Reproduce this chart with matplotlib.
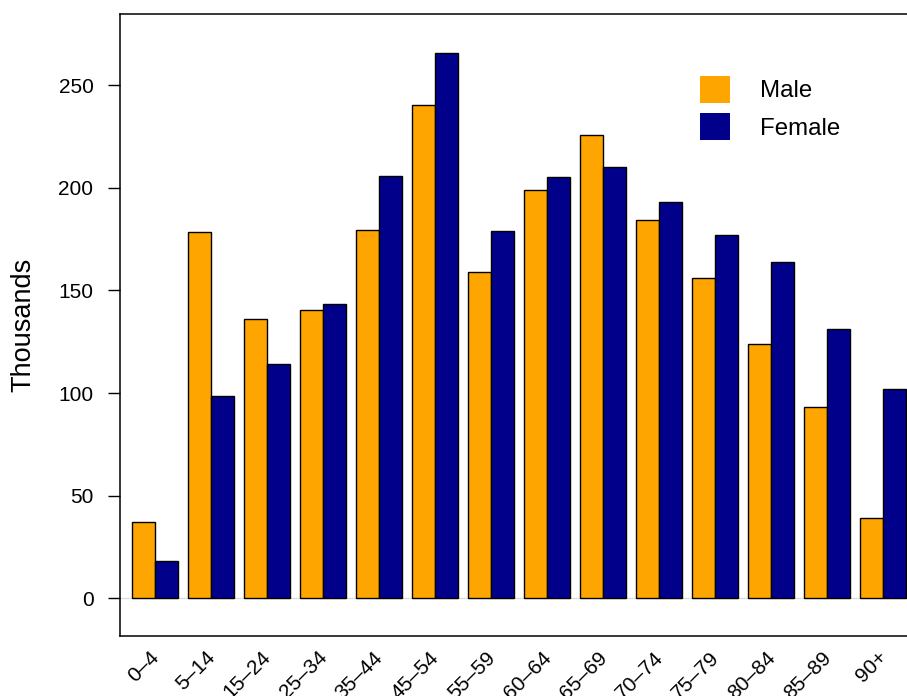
import numpy as np
import matplotlib
matplotlib.use('Agg')
import matplotlib.pyplot as plt

# age groups and population (thousands)
ages = ['0–4', '5–14', '15–24', '25–34', '35–44', '45–54', '55–59',
        '60–64', '65–69', '70–74', '75–79', '80–84', '85–89', '90+']
male = [37, 178.5, 136, 140.5, 179.5, 240.5, 159, 199, 225.8, 184.2, 156, 124, 93.4, 39.4]
female = [18, 98.7, 114.3, 143.5, 205.7, 265.4, 179, 205, 210, 193.1, 177, 163.8, 131.3, 102.2]
yticks = [0, 50, 100, 150, 200, 250]

plt.rcParams['font.family'] = ['Liberation Sans', 'DejaVu Sans']

W, H = 907, 696
fig = plt.figure(figsize=(W / 100, H / 100), dpi=100)
# plot box runs a little past the right edge of the picture
ax = fig.add_axes([120 / W, 60 / H, 798 / W, 622 / H])

pitch = 2.467  # group spacing in bar widths
x = np.arange(len(ages)) * pitch

ax.axhline(0, color='#DDDDDD', lw=1, zorder=0)
ax.bar(x - 0.5, male, width=1, color='#FFA500', edgecolor='black', linewidth=1, label='Male')
ax.bar(x + 0.5, female, width=1, color='#00008B', edgecolor='black', linewidth=1, label='Female')

ax.set_xlim(-1.54, x[-1] + 1.54)
ax.set_ylim(-18.3, 284.6)

for s in ax.spines.values():
    s.set_linewidth(1.1)

ax.set_yticks(yticks)
ax.tick_params(axis='y', length=8.6, width=1, pad=10.5, labelsize=15)
ax.set_xticks([])

for xi, lab in zip(x, ages):
    ax.text(xi - 0.25, -24.0, lab, rotation=45, ha='right', va='top',
            rotation_mode='anchor', fontsize=15, clip_on=False)

ax.set_ylabel('Thousands', fontsize=19.5)
ax.yaxis.set_label_coords(-0.105, 0.5)

leg = ax.legend(loc='upper left', bbox_to_anchor=(700 / W, 1 - 76 / H),
                bbox_transform=fig.transFigure, frameon=False, fontsize=17.3,
                handlelength=1.25, handleheight=1.32, handletextpad=1.25,
                labelspacing=0.45, borderpad=0, borderaxespad=0)
for h in leg.legend_handles:
    h.set_edgecolor('none')

fig.savefig('out.png', dpi=100)
